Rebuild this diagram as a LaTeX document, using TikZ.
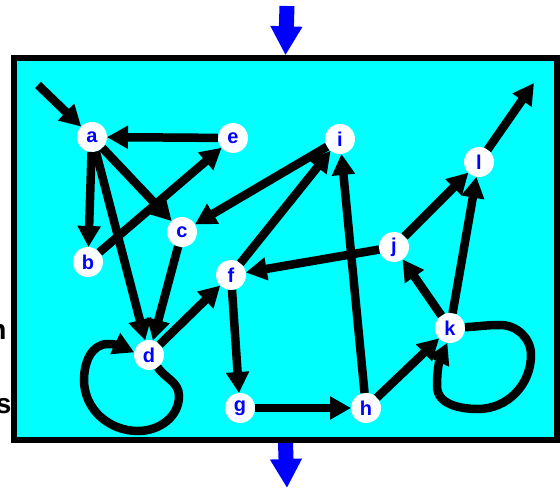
\documentclass[tikz,border=0pt]{standalone}
\usepackage{fontspec}
\setmainfont{Liberation Sans}
\usetikzlibrary{arrows.meta}
\definecolor{cyanbg}{RGB}{0,255,255}
\definecolor{lblue}{RGB}{0,0,255}
\begin{document}
\begin{tikzpicture}[x=1pt,y=1pt,
  vtx/.style={circle, fill=white, minimum size=30pt, inner sep=0pt, outer sep=0pt,
    text=lblue, font=\fontsize{20}{20}\selectfont\bfseries},
  edg/.style={line width=8.5pt, -{Triangle[length=21pt,width=22pt]}},
  bigarrow/.style={draw=lblue, line width=15pt, -{Triangle[length=29pt,width=30pt]}},
  cuttext/.style={font=\fontsize{28}{28}\selectfont\bfseries, inner sep=0pt, anchor=base east}]
\useasboundingbox (0,0) rectangle (560,488);
% cut-off words at the left edge
\node[cuttext] (tn) at (6.8,149) {n};
\node[cuttext] (ts) at (11.7,74.3) {s};
% frame
\node[draw, line width=6pt, fill=cyanbg, minimum width=543pt, minimum height=381.7pt,
  inner sep=0pt] (frame) at (285.5,238.85) {};
% blue arrows
\coordinate (topin) at (287,482);
\coordinate (botout) at (287,0);
\draw[bigarrow] (topin) -- (frame.north);
\draw[bigarrow] (frame.south) -- (botout);
% vertices
\node[vtx] (a) at (92,351) {a};
\node[vtx] (e) at (233,350) {e};
\node[vtx] (b) at (88,226) {b};
\node[vtx] (c) at (182,256) {c};
\node[vtx] (i) at (340,349) {i};
\node[vtx] (f) at (231,213) {f};
\node[vtx] (j) at (394,241) {j};
\node[vtx] (g) at (240,80) {g};
\node[vtx] (h) at (366,80) {h};
\node[vtx] (k) at (450,160) {k};
\node[vtx] (l) at (479,326) {l};
\node[vtx] (d) at (149,133) {d};
\coordinate (ain) at (38,403);
\coordinate (lout) at (534,405);
% edges
\draw[edg] (ain) -- (a);
\draw[edg] (e) -- (a);
\draw[edg] (a) -- (b);
\draw[edg] (a) -- (c);
\draw[edg] (a) -- (d);
\draw[edg] (b) -- (e);
\draw[edg] (c) -- (d);
\draw[edg] (i) -- (c);
\draw[edg] (f) -- (i);
\draw[edg] (d) -- (f);
\draw[edg] (f) -- (g);
\draw[edg] (g) -- (h);
\draw[edg] (h) -- (i);
\draw[edg] (h) -- (k);
\draw[edg] (j) -- (f);
\draw[edg] (j) -- (l);
\draw[edg] (k) -- (j);
\draw[edg] (k) -- (l);
\draw[edg] (l) -- (lout);
% self loops
\draw[edg] (d.-55) to[out=-55,in=90] (179,92) to[out=-90,in=0] (138,57)
  to[out=180,in=-90] (84,108) to[out=90,in=180] (108,144) to[out=0,in=155] (d.170);
\draw[edg] (k.3) to[out=3,in=180] (500,163) to[out=0,in=90] (531,133)
  to[out=-90,in=0] (478,79) to[out=180,in=-90] (437,102) to[out=90,in=-115] (k.-100);
\end{tikzpicture}
\end{document}
